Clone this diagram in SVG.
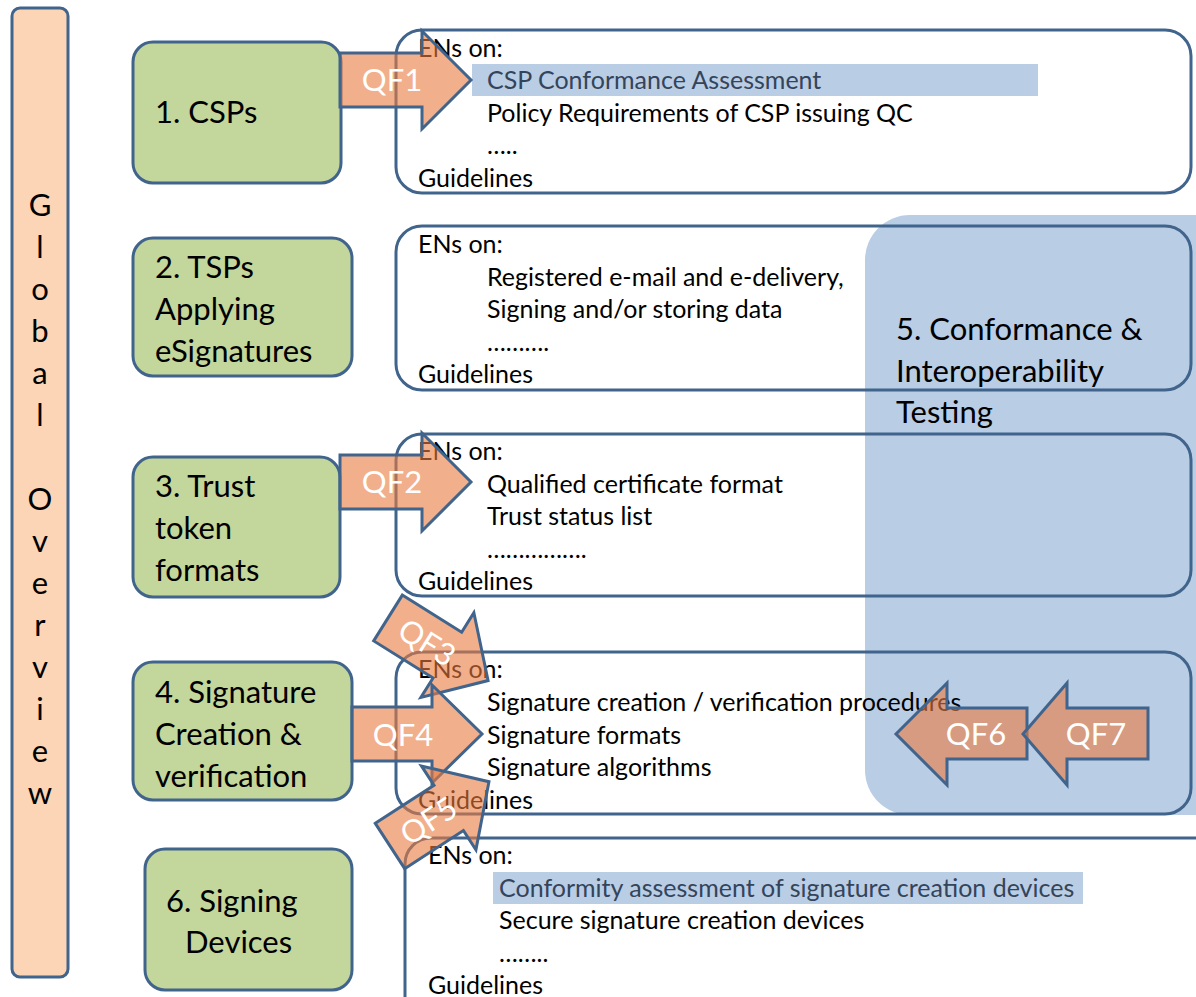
<svg xmlns="http://www.w3.org/2000/svg" width="1196" height="997" viewBox="0 0 1196 997">
<style>
text { font-family: Lato, "Liberation Sans", sans-serif; fill: #000; }
.big { font-size: 31px; }
.body { font-size: 25px; }
.hl { fill: #34445a; }
.lab { font-size: 31px; fill: #fff; text-anchor: middle; }
.node { fill: #c3d69b; stroke: #41648c; stroke-width: 3; }
.ens { fill: none; stroke: #41648c; stroke-width: 3; }
.arrow { fill: #e97a3e; fill-opacity: 0.6; stroke: #41648c; stroke-width: 3; stroke-linejoin: miter; }
.hlrect { fill: #b9cde5; }
</style>
<rect width="1196" height="997" fill="#ffffff"/>

<g id="panel5">
  <rect x="865" y="215" width="420" height="600" rx="45" fill="#b9cde5"/>
</g>

<g id="overview">
  <rect x="12" y="8" width="56" height="969" rx="8" fill="#fbd5b5" stroke="#41648c" stroke-width="3"/>
  <g class="big" text-anchor="middle">
    <text x="40" y="216">G</text>
    <text x="40" y="258">l</text>
    <text x="40" y="300">o</text>
    <text x="40" y="342">b</text>
    <text x="40" y="384">a</text>
    <text x="40" y="426">l</text>
    <text x="40" y="510">O</text>
    <text x="40" y="552">v</text>
    <text x="40" y="594">e</text>
    <text x="40" y="636">r</text>
    <text x="40" y="678">v</text>
    <text x="40" y="720">i</text>
    <text x="40" y="762">e</text>
    <text x="40" y="804">w</text>
  </g>
</g>

<g id="ens1">
  <rect class="ens" x="396" y="30" width="795" height="163" rx="26"/>
  <rect class="hlrect" x="472" y="64" width="566" height="32"/>
  <text class="body" x="418" y="57">ENs on:</text>
  <text class="body hl" x="487" y="89">CSP Conformance Assessment</text>
  <text class="body" x="487" y="122">Policy Requirements of CSP issuing QC</text>
  <text class="body" x="487" y="154">…..</text>
  <text class="body" x="418" y="187">Guidelines</text>
</g>

<g id="ens2">
  <rect class="ens" x="396" y="226" width="795" height="164" rx="26"/>
  <text class="body" x="418" y="253">ENs on:</text>
  <text class="body" x="487" y="286">Registered e-mail and e-delivery,</text>
  <text class="body" x="487" y="318">Signing and/or storing data</text>
  <text class="body" x="487" y="351">……….</text>
  <text class="body" x="418" y="383">Guidelines</text>
</g>

<g id="ens3">
  <rect class="ens" x="396" y="434" width="795" height="162" rx="26"/>
  <text class="body" x="418" y="460">ENs on:</text>
  <text class="body" x="487" y="493">Qualified certificate format</text>
  <text class="body" x="487" y="525">Trust status list</text>
  <text class="body" x="487" y="558">…………….</text>
  <text class="body" x="418" y="590">Guidelines</text>
</g>

<g id="ens4">
  <rect class="ens" x="396" y="652" width="795" height="162" rx="26"/>
  <text class="body" x="418" y="678">ENs on:</text>
  <text class="body" x="487" y="711">Signature creation / verification procedures</text>
  <text class="body" x="487" y="744">Signature formats</text>
  <text class="body" x="487" y="776">Signature algorithms</text>
  <text class="body" x="418" y="809">Guidelines</text>
</g>

<g id="ens6">
  <rect class="ens" x="405" y="838" width="900" height="300" rx="26"/>
  <rect class="hlrect" x="493" y="872" width="590" height="32"/>
  <text class="body" x="428" y="864">ENs on:</text>
  <text class="body hl" x="499" y="897">Conformity assessment of signature creation devices</text>
  <text class="body" x="499" y="929">Secure signature creation devices</text>
  <text class="body" x="499" y="962">……..</text>
  <text class="body" x="428" y="994">Guidelines</text>
</g>

<g id="panel5-label" class="big">
  <text x="896" y="340">5. Conformance &amp;</text>
  <text x="896" y="382">Interoperability</text>
  <text x="896" y="423">Testing</text>
</g>

<g id="node1">
  <rect class="node" x="133" y="42" width="208" height="141" rx="20"/>
  <text class="big" x="155" y="123">1. CSPs</text>
</g>
<g id="node2">
  <rect class="node" x="133" y="238" width="219" height="138" rx="20"/>
  <text class="big" x="155" y="278">2. TSPs</text>
  <text class="big" x="155" y="320">Applying</text>
  <text class="big" x="155" y="362">eSignatures</text>
</g>
<g id="node3">
  <rect class="node" x="133" y="457" width="207" height="140" rx="20"/>
  <text class="big" x="155" y="497">3. Trust</text>
  <text class="big" x="155" y="539">token</text>
  <text class="big" x="155" y="581">formats</text>
</g>
<g id="node4">
  <rect class="node" x="133" y="662" width="219" height="138" rx="20"/>
  <text class="big" x="155" y="703">4. Signature</text>
  <text class="big" x="155" y="745">Creation &amp;</text>
  <text class="big" x="155" y="787">verification</text>
</g>
<g id="node6">
  <rect class="node" x="145" y="849" width="207" height="141" rx="20"/>
  <text class="big" x="166" y="912">6. Signing</text>
  <text class="big" x="185" y="953">Devices</text>
</g>

<g id="connectors">
  <g id="qf1">
    <path class="arrow" d="M340,53 L422,53 L422,31 L471,80 L422,129 L422,107 L340,107 Z"/>
    <text class="lab" x="392" y="91">QF1</text>
  </g>
  <g id="qf2">
    <path class="arrow" d="M340,455 L422,455 L422,433 L471,482 L422,531 L422,509 L340,509 Z"/>
    <text class="lab" x="392" y="493">QF2</text>
  </g>
  <g id="qf3" transform="translate(388,618) rotate(32)">
    <path class="arrow" d="M0,-27 L70,-27 L70,-50 L118,0 L70,50 L70,27 L0,27 Z"/>
    <text class="lab" x="46" y="11">QF3</text>
  </g>
  <g id="qf4">
    <path class="arrow" d="M352,707 L432,707 L432,685 L482,734 L432,783 L432,761 L352,761 Z"/>
    <text class="lab" x="403" y="746">QF4</text>
  </g>
  <g id="qf5" transform="translate(390,846) rotate(-33)">
    <path class="arrow" d="M0,-27 L70,-27 L70,-50 L118,0 L70,50 L70,27 L0,27 Z"/>
    <text class="lab" x="46" y="11">QF5</text>
  </g>
  <g id="qf6">
    <path class="arrow" d="M1027,708 L947,708 L947,683 L896,734 L947,785 L947,759 L1027,759 Z"/>
    <text class="lab" x="976" y="745">QF6</text>
  </g>
  <g id="qf7">
    <path class="arrow" d="M1148,708 L1067,708 L1067,683 L1023,734 L1067,785 L1067,759 L1148,759 Z"/>
    <text class="lab" x="1096" y="745">QF7</text>
  </g>
</g>
</svg>
